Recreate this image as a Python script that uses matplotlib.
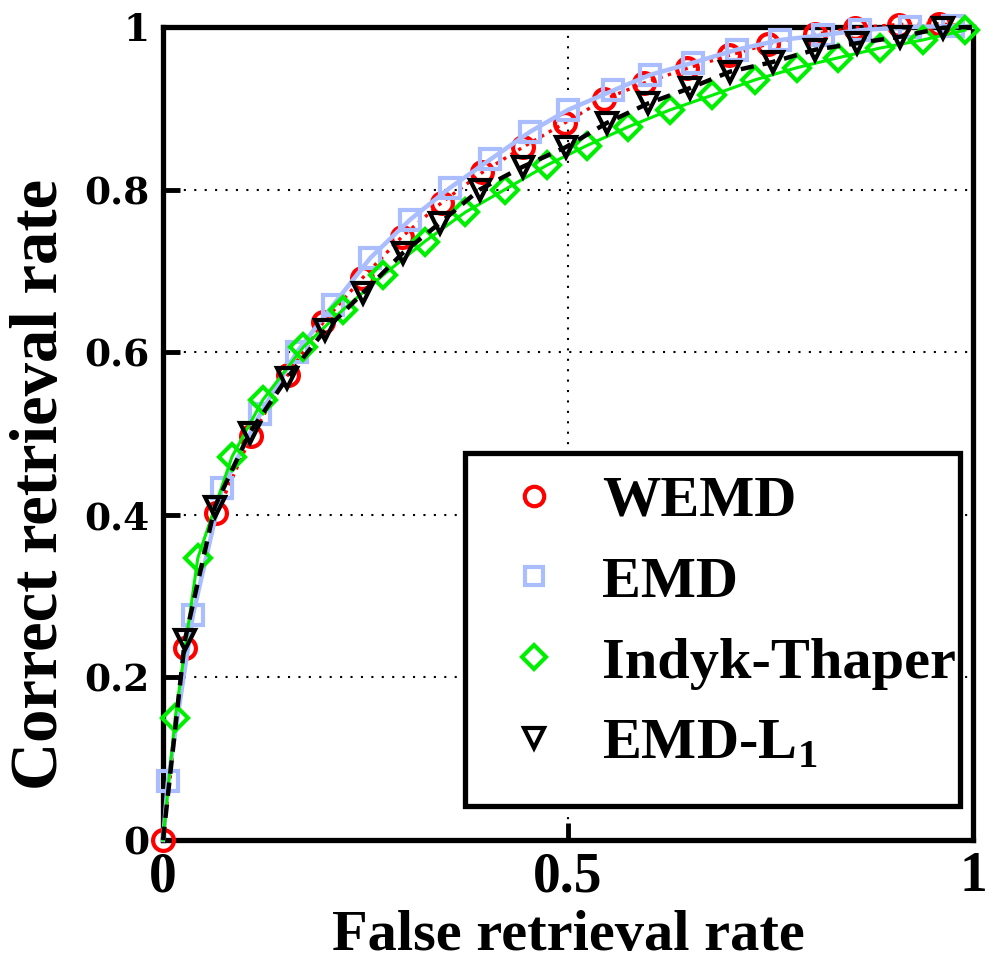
import matplotlib
matplotlib.use("Agg")
import matplotlib.pyplot as plt
from matplotlib.lines import Line2D
from matplotlib.patches import Rectangle

# ---- data ----
wemd_x = [0.0, 0.027, 0.066, 0.109, 0.154, 0.198, 0.246, 0.295, 0.344, 0.394, 0.444, 0.496,
          0.545, 0.594, 0.647, 0.699, 0.747, 0.805, 0.854, 0.908, 0.958, 1.0]
wemd_y = [0.0, 0.236, 0.402, 0.497, 0.572, 0.637, 0.691, 0.742, 0.784, 0.821, 0.852, 0.882,
          0.911, 0.931, 0.949, 0.965, 0.979, 0.991, 0.999, 1.003, 1.004, 1.0]

emd_x = [0.0, 0.006, 0.037, 0.073, 0.12, 0.165, 0.21, 0.256, 0.305, 0.354, 0.404, 0.453,
         0.500, 0.556, 0.601, 0.654, 0.708, 0.762, 0.815, 0.86, 0.922, 0.975, 1.0]
emd_y = [0.0, 0.072, 0.277, 0.433, 0.524, 0.600, 0.658, 0.716, 0.763, 0.802, 0.837, 0.871,
         0.898, 0.922, 0.941, 0.956, 0.972, 0.984, 0.990, 0.996, 1.0, 1.001, 1.0]

indyk_x = [0.0, 0.015, 0.043, 0.085, 0.123, 0.173, 0.222, 0.272, 0.323, 0.373, 0.422, 0.474,
           0.523, 0.574, 0.626, 0.678, 0.731, 0.783, 0.833, 0.885, 0.938, 0.99]
indyk_y = [0.0, 0.150, 0.347, 0.471, 0.541, 0.606, 0.652, 0.695, 0.736, 0.772, 0.800, 0.830,
           0.854, 0.877, 0.898, 0.916, 0.935, 0.950, 0.962, 0.974, 0.984, 0.996]

emdl1_x = [0.0, 0.027, 0.064, 0.107, 0.153, 0.200, 0.247, 0.296, 0.342, 0.391, 0.444, 0.497,
           0.548, 0.599, 0.651, 0.700, 0.753, 0.805, 0.857, 0.910, 0.963, 1.0]
emdl1_y = [0.0, 0.246, 0.410, 0.501, 0.568, 0.627, 0.673, 0.722, 0.759, 0.800, 0.828, 0.852,
           0.882, 0.906, 0.925, 0.945, 0.957, 0.972, 0.980, 0.988, 0.999, 1.0]

labels = ["WEMD", "EMD", "Indyk-Thaper", r"EMD-L$_\mathbf{1}$"]
colors = ["#ff0000", "#aabdff", "#00ee00", "#000000"]
markers = ["o", "s", "D", "v"]

plt.rcParams["mathtext.fontset"] = "custom"
plt.rcParams["mathtext.rm"] = "Liberation Serif:bold"
plt.rcParams["mathtext.bf"] = "Liberation Serif:bold"

fig = plt.figure(figsize=(9.97, 9.73), dpi=100)
ax = fig.add_axes([0.1635, 0.1367, 0.976 - 0.1635, 0.9723 - 0.1367])

order = [1, 0, 2, 3]
styles = {0: dict(ls=":", lw=2.4), 1: dict(ls="-", lw=3.2),
          2: dict(ls="-", lw=2.2), 3: dict(ls=(0, (3, 2)), lw=3.2)}
msize = {0: 15, 1: 14, 2: 13, 3: 15}
data = {0: (wemd_x, wemd_y), 1: (emd_x, emd_y), 2: (indyk_x, indyk_y), 3: (emdl1_x, emdl1_y)}

for i in order:
    x, y = data[i]
    if i == 0:
        mk_idx = list(range(len(x) - 1))
    else:
        end = len(x) - (1 if x[-1] == 1.0 else 0)
        mk_idx = list(range(1, end))
    ax.plot(x, y, color=colors[i], marker=markers[i], markevery=mk_idx,
            markersize=msize[i], markerfacecolor="none", markeredgewidth=3.0,
            clip_on=False, zorder=3 + i, **styles[i])

ax.set_xlim(0, 1)
ax.set_ylim(0, 1)
ax.set_xticks([0, 0.5, 1])
ax.set_xticklabels(["0", "0.5", "1"])
ax.set_yticks([0, 0.2, 0.4, 0.6, 0.8, 1])
ax.set_yticklabels(["0", "0.2", "0.4", "0.6", "0.8", "1"])
ax.grid(True, color="black", linestyle=(0, (1, 4)), linewidth=1.5)
ax.tick_params(direction="in", length=12, width=3.5)
ax.tick_params(axis="x", pad=8)
ax.tick_params(axis="y", pad=10)
for lab in ax.get_xticklabels():
    lab.set_fontfamily("Liberation Serif")
    lab.set_fontweight("bold")
    lab.set_fontsize(40)
for lab in ax.get_yticklabels():
    lab.set_fontfamily("DejaVu Serif")
    lab.set_fontweight("bold")
    lab.set_fontsize(27)
for sp in ax.spines.values():
    sp.set_linewidth(3.8)

ax.set_xlabel("False retrieval rate", fontfamily="Liberation Serif", fontweight="bold",
              fontsize=42, labelpad=5)
ax.set_ylabel("Correct retrieval rate", fontfamily="Liberation Serif", fontweight="bold",
              fontsize=48)
ax.yaxis.set_label_coords(-0.114, 0.437)

# legend frame (fixed size, text may run onto its right edge as in the reference)
frame = Rectangle((0.373, 0.042), 0.984 - 0.373, 0.476 - 0.042, transform=ax.transAxes,
                  facecolor="white", edgecolor="black", linewidth=3.8, zorder=9,
                  clip_on=False)
ax.add_patch(frame)

handles = [Line2D([], [], color=colors[i], marker=markers[i], linestyle="none",
                  markersize=msize[i] - 1, markerfacecolor="none", markeredgewidth=3.0)
           for i in range(4)]
leg = ax.legend(handles, labels, loc="upper left", bbox_to_anchor=(0.373, 0.476),
                borderaxespad=0, frameon=False,
                prop={"family": "Liberation Serif", "weight": "bold", "size": 42},
                handlelength=1.6, handletextpad=0.36, labelspacing=0.48, borderpad=0.38)
leg.set_zorder(10)

fig.savefig("out.png", dpi=100)
